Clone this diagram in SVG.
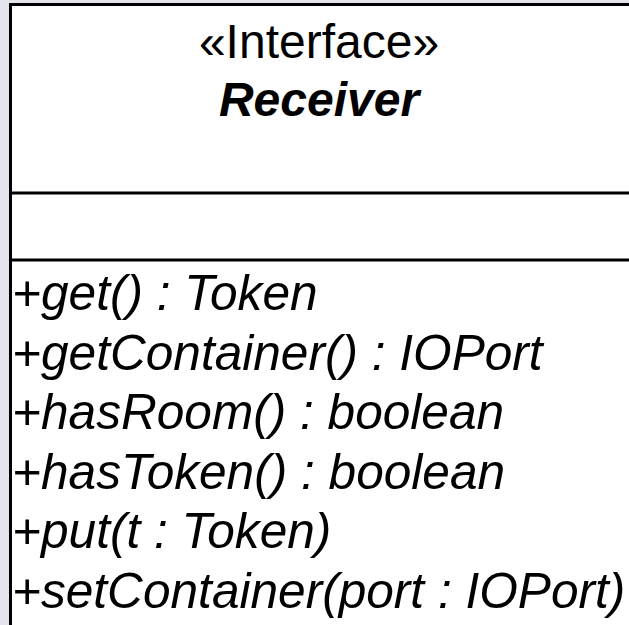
<svg xmlns="http://www.w3.org/2000/svg" width="629" height="625" viewBox="0 0 629 625">
<style>
.t{font-family:"Liberation Sans",Arial,sans-serif;font-size:48px;fill:#000}
.m{font-size:49.6px;font-style:italic}
.b{font-weight:bold;font-style:italic}
.ln{stroke:#000;stroke-width:3}
</style>
<rect x="0" y="0" width="629" height="625" fill="#e4e5ec"/>
<g id="receiver">
<rect x="10.5" y="4.5" width="640" height="640" fill="#fff" class="ln"/>
<line class="ln" x1="10.5" y1="193" x2="640" y2="193"/>
<line class="ln" x1="10.5" y1="260" x2="640" y2="260"/>
<text class="t" x="319" y="58" text-anchor="middle">«Interface»</text>
<text class="t b" x="319" y="116" text-anchor="middle">Receiver</text>
<text class="t m" x="12" y="310">+get() : Token</text>
<text class="t m" x="12" y="369.5">+getContainer() : IOPort</text>
<text class="t m" x="12" y="429">+hasRoom() : boolean</text>
<text class="t m" x="12" y="488.5">+hasToken() : boolean</text>
<text class="t m" x="12" y="548">+put(t : Token)</text>
<text class="t m" x="12" y="607.5">+setContainer(port : IOPort)</text>
</g>
<g id="connectors"/>
</svg>
